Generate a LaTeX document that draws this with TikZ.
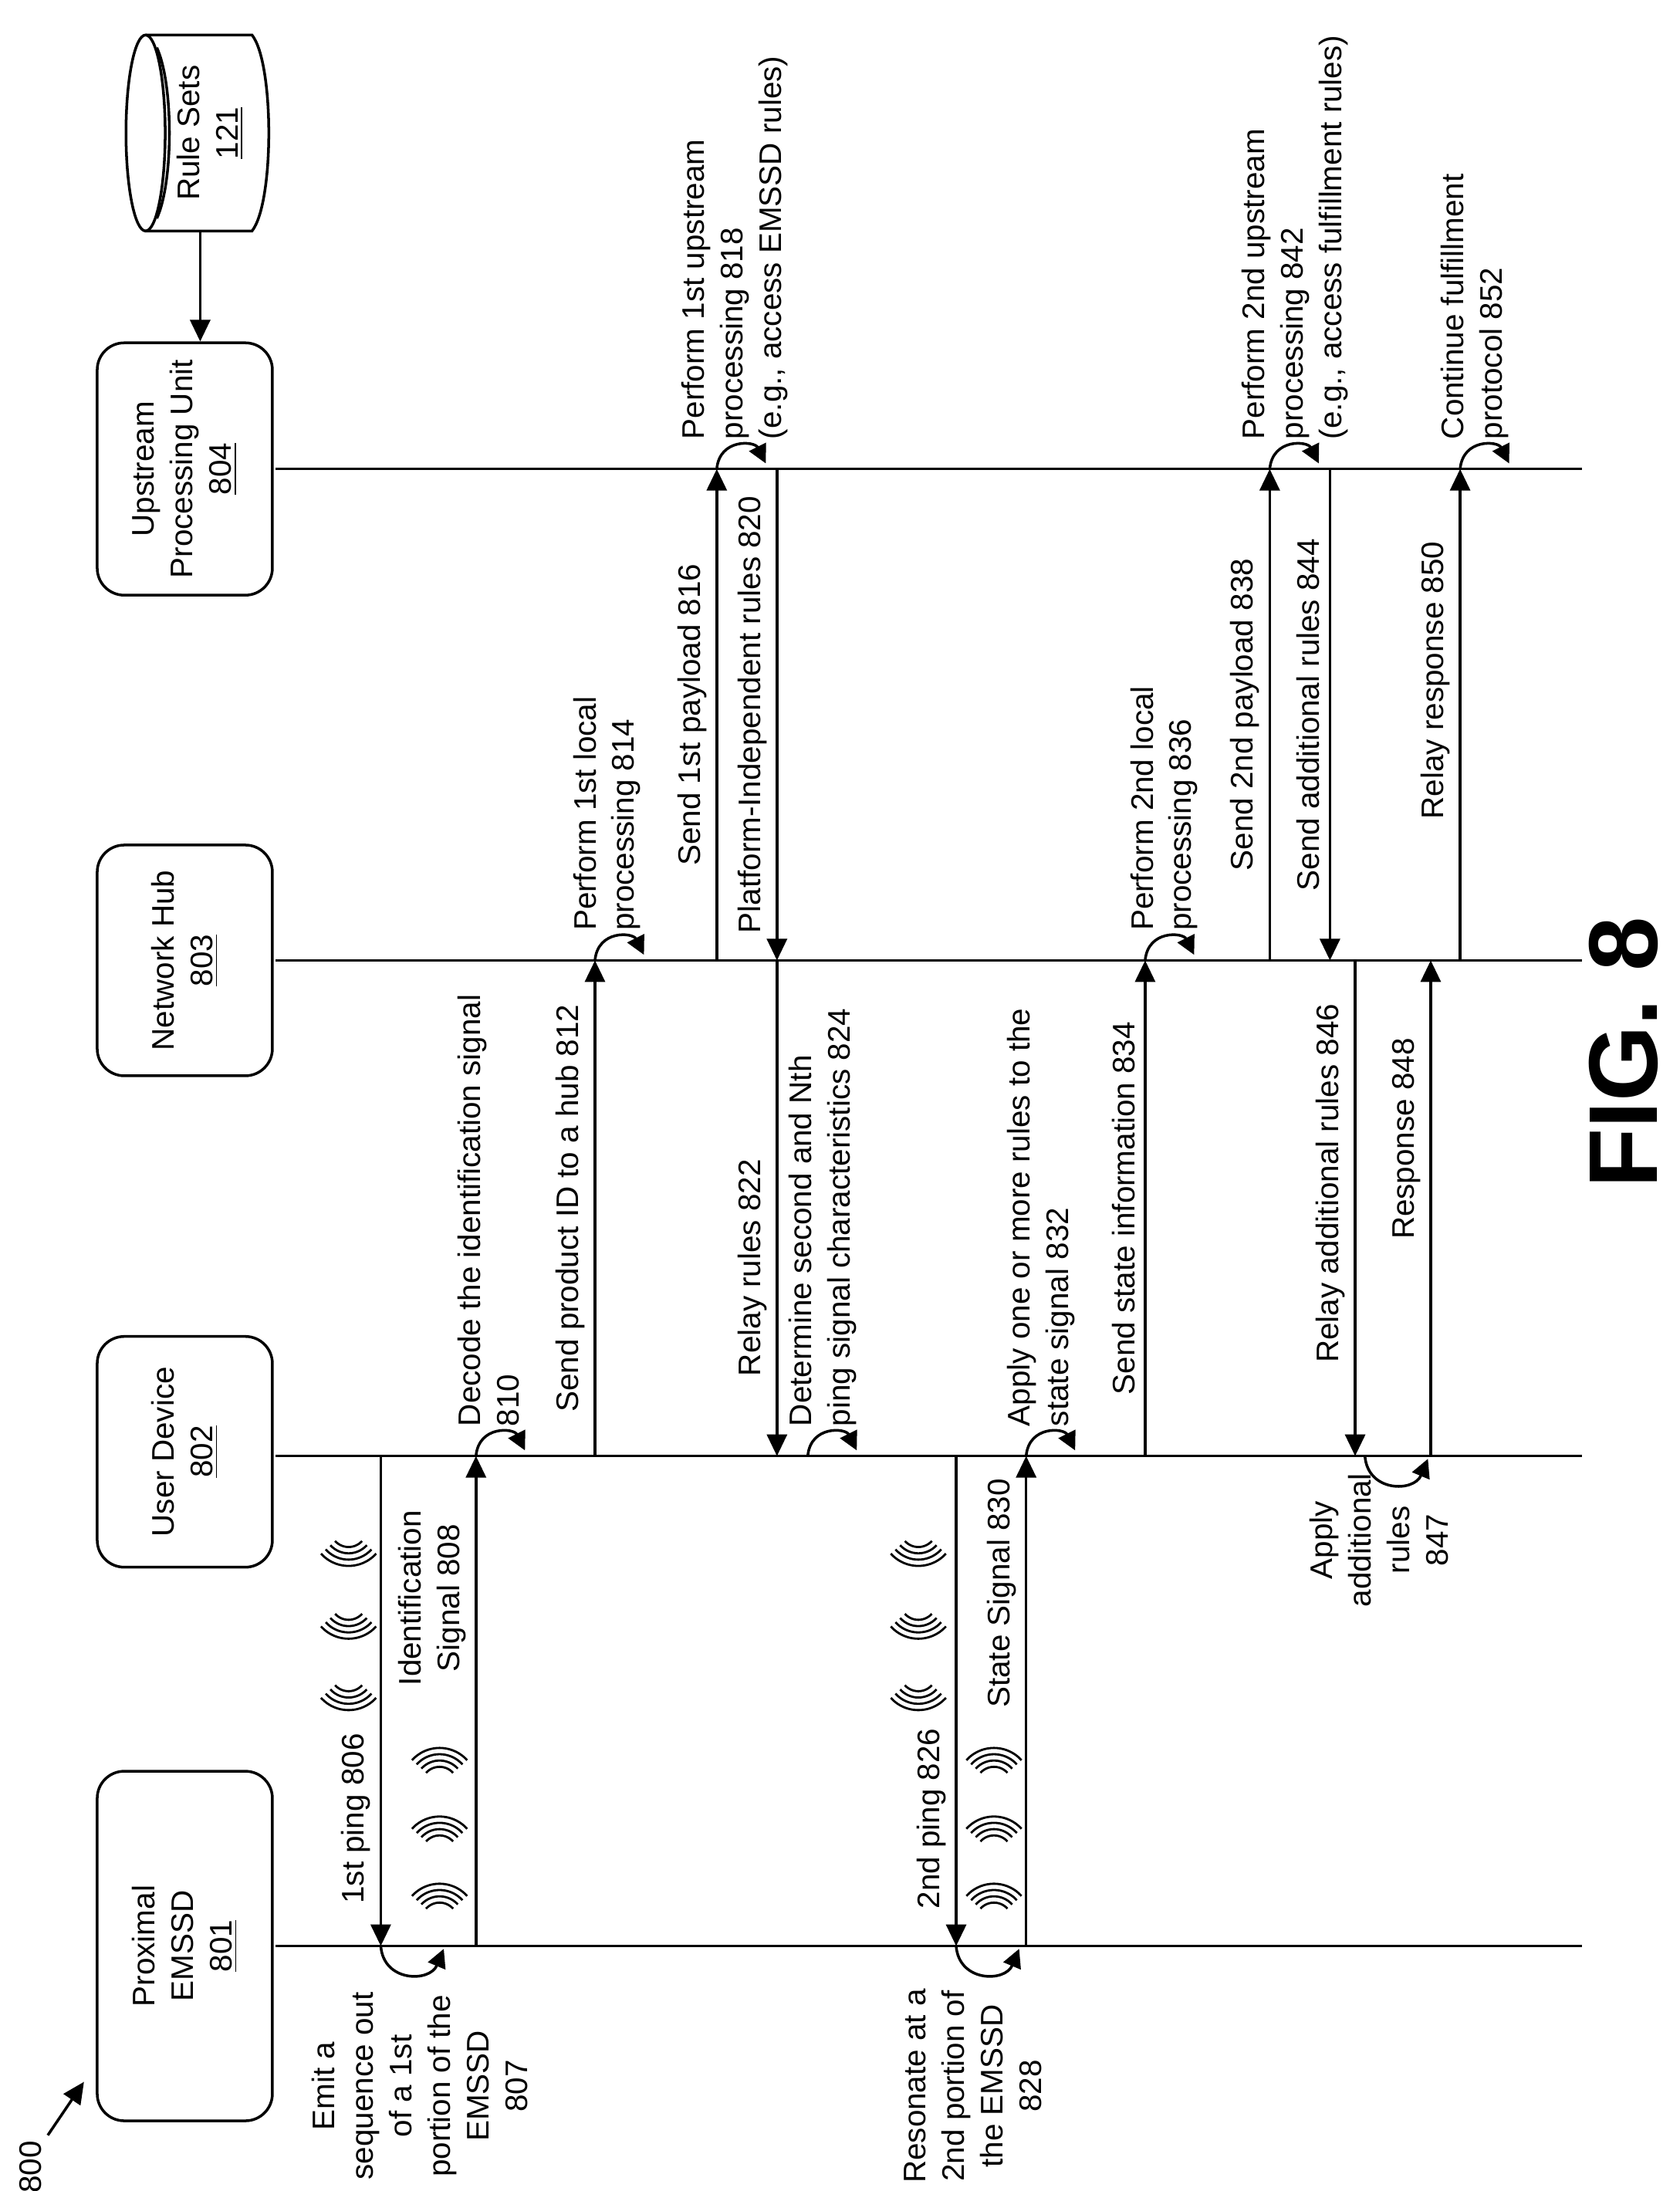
\documentclass[tikz,border=0pt]{standalone}
\usepackage{fontspec}
\setmainfont{Liberation Sans}
\usetikzlibrary{arrows.meta, calc}

\tikzset{
  life/.style={line width=1pt},
  msg/.style={line width=1pt, -{Triangle[length=0.28cm, width=0.26cm]}},
  loop/.style={line width=1pt, -{Triangle[length=0.24cm, width=0.24cm]}},
  lbl/.style={rotate=90, font=\fontsize{11.5}{14.2}\selectfont, inner sep=2pt},
  actor/.style={draw, line width=1pt, rounded corners=0.35cm, rotate=90, align=center,
    font=\fontsize{11.5}{14.2}\selectfont},
  wave/.style={line width=0.8pt}
}

% message arrow: x, from y, to y, id, label position, text
\newcommand\msgarrow[6]{%
  \coordinate (m#4a) at (#1,#2);
  \coordinate (m#4b) at (#1,#3);
  \draw[msg] (m#4a) -- (m#4b);
  \node[lbl, anchor=south, align=center] (t#4) at ($(m#4a)!#5!(m#4b)+(-3,0)$) {#6};
}
% self loop above a lifeline: x, y, id, right edge of text, text
\newcommand\looptop[5]{%
  \coordinate (s#3a) at (#1,#2);
  \coordinate (s#3b) at (#1+35,#2-4);
  \draw[loop] (s#3a) .. controls +(2,-22) and +(-8,-16) .. (s#3b);
  \node[lbl, anchor=south west, align=left] (t#3) at (#4,#2-17) {#5};
}
% self loop below a lifeline: x, y, id, text centre, text
\newcommand\loopbot[5]{%
  \coordinate (s#3a) at (#1,#2);
  \coordinate (s#3b) at (#1+45,#2+2);
  \draw[loop] (s#3a) .. controls +(2,26) and +(-10,24) .. (s#3b);
  \node[lbl, align=center] (t#3) at (#4) {#5};
}
% one set of waves: centre x, centre y, direction (1 down, -1 up)
\newcommand\waveset[3]{%
  \foreach \r in {13,17.5,22,26.5}
    \draw[wave] plot[domain=-48:48, samples=15, smooth] ({#1+\r*sin(\x)}, {#2+#3*\r*cos(\x)});
}

\begin{document}
\begin{tikzpicture}[x=0.01814cm, y=-0.01814cm]
  \useasboundingbox (0,0) rectangle (1200,1565);

  % actors
  \node[actor, minimum width=4.53cm, minimum height=2.27cm] (A801) at (132,1390) {Proximal\\EMSSD\\\underline{801}};
  \node[actor, minimum width=2.99cm, minimum height=2.27cm] (A802) at (132,1037) {User Device\\\underline{802}};
  \node[actor, minimum width=2.99cm, minimum height=2.27cm] (A803) at (132,686) {Network Hub\\\underline{803}};
  \node[actor, minimum width=3.27cm, minimum height=2.27cm] (A804) at (132,335) {Upstream\\Processing Unit\\\underline{804}};

  % rule sets store
  \draw[line width=1pt] (104,95) ellipse[x radius=14, y radius=70];
  \draw[line width=1pt] (112,34) .. controls (124,60) and (124,130) .. (112,156);
  \draw[line width=1pt] (104,25) -- (180,25) .. controls (196,45) and (196,145) .. (180,165) -- (104,165);
  \node[lbl, align=center] (R121) at (150,95) {Rule Sets\\\underline{121}};
  \coordinate (R121b) at (143,165);
  \draw[msg] (R121b) -- (R121b |- A804.east);

  % lifelines
  \foreach \n/\y in {801/1390, 802/1040, 803/686, 804/335}
    \draw[life] (197,\y) coordinate (L\n a) -- (1130,\y) coordinate (L\n b);

  % first round
  \msgarrow{272}{1040}{1390}{806}{0.74}{1st ping 806}
  \loopbot{272}{1390}{807}{300,1490}{Emit a\\sequence out\\of a 1st\\portion of the\\EMSSD\\807}
  \msgarrow{340}{1390}{1040}{808}{0.71}{Identification\\Signal 808}
  \foreach \c in {1092,1144,1195} \waveset{249}{\c}{1};
  \foreach \c in {1275,1324,1372} \waveset{314}{\c}{-1};
  \looptop{340}{1040}{810}{375}{Decode the identification signal\\810}
  \msgarrow{425}{1040}{686}{812}{0.5}{Send product ID to a hub 812}
  \looptop{425}{686}{814}{462}{Perform 1st local\\processing 814}
  \msgarrow{512}{686}{335}{816}{0.5}{Send 1st payload 816}
  \looptop{512}{335}{818}{567}{Perform 1st upstream\\processing 818\\(e.g., access EMSSD rules)}
  \msgarrow{555}{335}{686}{820}{0.5}{Platform-Independent rules 820}
  \msgarrow{555}{686}{1040}{822}{0.62}{Relay rules 822}
  \looptop{577}{1040}{824}{616}{Determine second and Nth\\ping signal characteristics 824}

  % second round
  \msgarrow{683}{1040}{1390}{826}{0.74}{2nd ping 826}
  \loopbot{683}{1390}{828}{695,1490}{Resonate at a\\2nd portion of\\the EMSSD\\828}
  \msgarrow{733}{1390}{1040}{830}{0.72}{State Signal 830}
  \foreach \c in {1092,1144,1195} \waveset{656}{\c}{1};
  \foreach \c in {1275,1324,1372} \waveset{710}{\c}{-1};
  \looptop{733}{1040}{832}{772}{Apply one or more rules to the\\state signal 832}
  \msgarrow{818}{1040}{686}{834}{0.5}{Send state information 834}
  \looptop{818}{686}{836}{860}{Perform 2nd local\\processing 836}
  \msgarrow{907}{686}{335}{838}{0.5}{Send 2nd payload 838}
  \looptop{907}{335}{842}{967}{Perform 2nd upstream\\processing 842\\(e.g., access fulfillment rules)}
  \msgarrow{950}{335}{686}{844}{0.5}{Send additional rules 844}
  \msgarrow{968}{686}{1040}{846}{0.45}{Relay additional rules 846}
  \loopbot{975}{1040}{847}{985,1100}{Apply\\additional\\rules\\847}
  \msgarrow{1022}{1040}{686}{848}{0.64}{Response 848}
  \msgarrow{1043}{686}{335}{850}{0.57}{Relay response 850}
  \looptop{1043}{335}{852}{1082}{Continue fulfillment\\protocol 852}

  % figure label
  \node[rotate=90, font=\fontsize{36}{40}\selectfont\bfseries] (fig) at (1160,752) {FIG. 8};
  \node[lbl] (n800) at (22,1548) {800};
  \coordinate (p800) at (60,1487);
  \draw[msg] (n800.south east) -- (p800);
\end{tikzpicture}
\end{document}
